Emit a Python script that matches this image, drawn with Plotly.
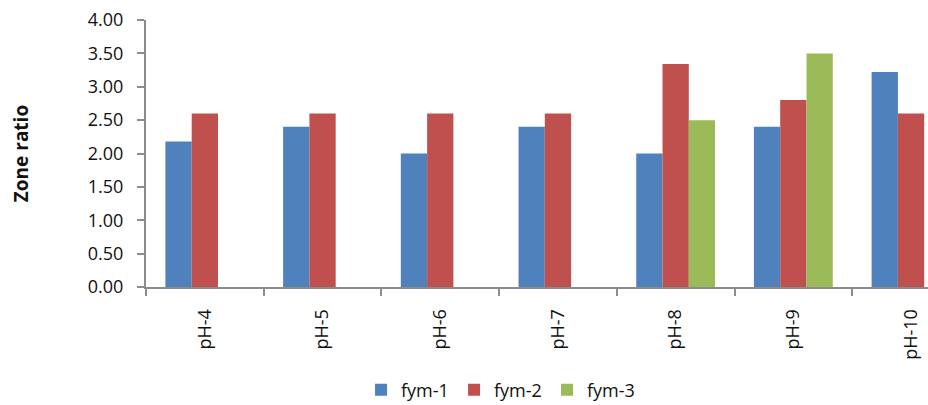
import plotly.graph_objects as go

categories = ["pH-4", "pH-5", "pH-6", "pH-7", "pH-8", "pH-9", "pH-10"]
fym_1 = [2.18, 2.40, 2.00, 2.40, 2.00, 2.40, 3.22]
fym_2 = [2.60, 2.60, 2.60, 2.60, 3.34, 2.80, 2.60]
fym_3 = [0, 0, 0, 0, 2.50, 3.50, 0]
y_ticks = [0, 0.5, 1.0, 1.5, 2.0, 2.5, 3.0, 3.5, 4.0]

series = [("fym-1", fym_1, "#4F81BD"),
          ("fym-2", fym_2, "#C0504D"),
          ("fym-3", fym_3, "#9BBB59")]

font_family = "Open Sans, Liberation Sans, sans-serif"
axis_grey = "#8C8C8C"
text_color = "#111111"

fig = go.Figure()
for name, vals, color in series:
    fig.add_trace(go.Bar(name=name, x=categories, y=vals,
                         marker=dict(color=color, line=dict(width=0))))

fig.update_layout(
    width=928, height=405,
    margin=dict(l=146, r=0, t=20, b=118, autoexpand=False),
    paper_bgcolor="white", plot_bgcolor="white",
    barmode="group", bargap=0.33, bargroupgap=0,
    font=dict(family=font_family, size=18, color=text_color),
    showlegend=True,
    legend=dict(orientation="h", x=0.275, xanchor="left",
                y=-0.386, yanchor="middle",
                font=dict(size=18, color=text_color),
                entrywidth=48, entrywidthmode="pixels",
                bgcolor="rgba(0,0,0,0)"),
)

fig.update_xaxes(
    type="category", range=[-0.5, 6.144],
    showline=True, linecolor=axis_grey, linewidth=2,
    ticks="outside", tickson="boundaries", ticklen=7,
    tickcolor=axis_grey, tickwidth=2,
    tickangle=-90, showgrid=False, zeroline=False,
    ticklabelstandoff=13,
)

fig.update_yaxes(
    range=[0, 4], tickvals=y_ticks,
    ticktext=[f"{v:.2f}" for v in y_ticks],
    showline=True, linecolor=axis_grey, linewidth=2,
    ticks="outside", ticklen=7, tickcolor=axis_grey, tickwidth=2,
    showgrid=False, zeroline=False,
    ticklabelstandoff=10,
    title=dict(text="<b>Zone ratio</b>", standoff=54,
               font=dict(size=19, color=text_color)),
)

fig.write_html("out.html")
